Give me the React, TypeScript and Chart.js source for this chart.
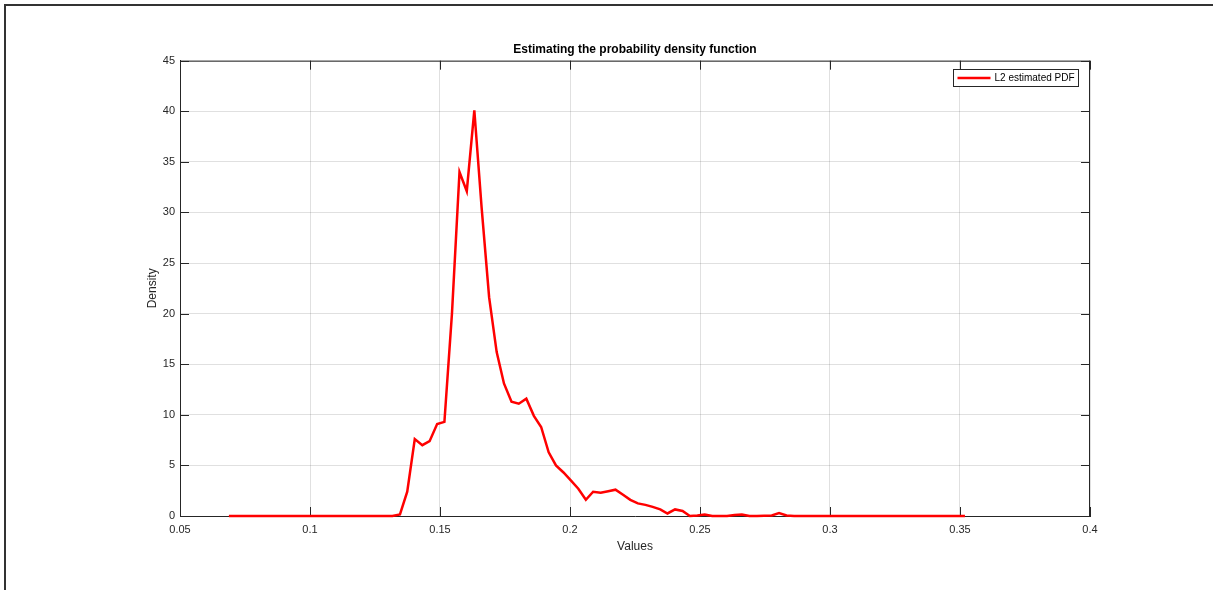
import React, { useEffect, useRef } from "react";
import { Chart, registerables } from "chart.js";

Chart.register(...registerables);

// Sample positions of the estimated density curve
const xValues = [
  0.0688, 0.0717, 0.0745, 0.0774, 0.0802, 0.0831, 0.0860, 0.0888, 0.0917, 0.0945,
  0.0974, 0.1003, 0.1031, 0.1060, 0.1088, 0.1117, 0.1146, 0.1174, 0.1203, 0.1231,
  0.1260, 0.1289, 0.1317, 0.1346, 0.1374, 0.1403, 0.1432, 0.1460, 0.1489, 0.1517,
  0.1546, 0.1575, 0.1603, 0.1632, 0.1660, 0.1689, 0.1718, 0.1746, 0.1775, 0.1803,
  0.1832, 0.1861, 0.1889, 0.1918, 0.1946, 0.1975, 0.2004, 0.2032, 0.2061, 0.2089,
  0.2118, 0.2147, 0.2175, 0.2204, 0.2232, 0.2261, 0.2290, 0.2318, 0.2347, 0.2375,
  0.2404, 0.2433, 0.2461, 0.2490, 0.2518, 0.2547, 0.2576, 0.2604, 0.2633, 0.2661,
  0.2690, 0.2719, 0.2747, 0.2776, 0.2804, 0.2833, 0.2862, 0.2890, 0.2919, 0.2947,
  0.2976, 0.3005, 0.3033, 0.3062, 0.3090, 0.3119, 0.3148, 0.3176, 0.3205, 0.3233,
  0.3262, 0.3291, 0.3319, 0.3348, 0.3376, 0.3405, 0.3434, 0.3462, 0.3491, 0.3519,
];

// L2 estimated PDF values at each sample position
const densityValues = [
  0, 0, 0, 0, 0, 0, 0, 0, 0, 0,
  0, 0, 0, 0, 0, 0, 0, 0, 0, 0,
  0, 0, 0, 0.15, 2.4, 7.6, 7.0, 7.4, 9.1, 9.3,
  20.0, 34.0, 32.1, 40.1, 30.5, 21.6, 16.2, 13.1, 11.3, 11.1,
  11.6, 9.9, 8.8, 6.3, 5.0, 4.3, 3.5, 2.7, 1.6, 2.4,
  2.3, 2.45, 2.6, 2.1, 1.6, 1.25, 1.1, 0.9, 0.65, 0.25,
  0.65, 0.5, 0, 0.05, 0.15, 0, 0, 0, 0.1, 0.15,
  0, 0, 0.02, 0.05, 0.28, 0.05, 0, 0, 0, 0,
  0, 0, 0, 0, 0, 0, 0, 0, 0, 0,
  0, 0, 0, 0, 0, 0, 0, 0, 0, 0,
];

const xTicks = [0.05, 0.1, 0.15, 0.2, 0.25, 0.3, 0.35, 0.4];
const yTicks = [0, 5, 10, 15, 20, 25, 30, 35, 40, 45];

const chartTitle = "Estimating the probability density function";
const xLabel = "Values";
const yLabel = "Density";
const seriesLabel = "L2 estimated PDF";

const AXIS_COLOR = "#262626";
const FONT = "'Liberation Sans', Arial, Helvetica, sans-serif";

// Box outline, inward tick marks, titles and legend in a MATLAB-like style
const axesDecor = {
  id: "axesDecor",
  beforeDatasetsDraw(chart: any) {
    const { ctx, chartArea: a, scales } = chart;
    const xs = scales.x;
    const ys = scales.y;
    ctx.save();
    ctx.strokeStyle = AXIS_COLOR;
    ctx.lineWidth = 1;
    ctx.beginPath();
    ctx.moveTo(a.left, a.top + 0.5);
    ctx.lineTo(a.right, a.top + 0.5);
    ctx.moveTo(a.right - 0.5, a.top);
    ctx.lineTo(a.right - 0.5, a.bottom);
    const tl = 9;
    xTicks.forEach((v) => {
      const px = Math.round(xs.getPixelForValue(v)) + 0.5;
      ctx.moveTo(px, a.bottom);
      ctx.lineTo(px, a.bottom - tl);
      ctx.moveTo(px, a.top);
      ctx.lineTo(px, a.top + tl);
    });
    yTicks.forEach((v) => {
      const py = Math.round(ys.getPixelForValue(v)) + 0.5;
      ctx.moveTo(a.left, py);
      ctx.lineTo(a.left + tl, py);
      ctx.moveTo(a.right, py);
      ctx.lineTo(a.right - tl, py);
    });
    ctx.stroke();
    ctx.restore();
  },
  afterDraw(chart: any) {
    const { ctx, chartArea: a } = chart;
    const cx = (a.left + a.right) / 2;
    ctx.save();
    ctx.fillStyle = "#000000";
    ctx.textAlign = "center";
    ctx.textBaseline = "middle";
    ctx.font = `bold 12px ${FONT}`;
    ctx.fillText(chartTitle, cx, a.top - 11.5);

    ctx.fillStyle = AXIS_COLOR;
    ctx.font = `12px ${FONT}`;
    ctx.fillText(xLabel, cx, a.bottom + 31);

    ctx.save();
    ctx.translate(a.left - 27, (a.top + a.bottom) / 2);
    ctx.rotate(-Math.PI / 2);
    ctx.fillText(yLabel, 0, 0);
    ctx.restore();

    // legend
    const lx = 953.5;
    const ly = 69.5;
    const lw = 125;
    const lh = 17;
    ctx.fillStyle = "#ffffff";
    ctx.fillRect(lx, ly, lw, lh);
    ctx.strokeStyle = AXIS_COLOR;
    ctx.lineWidth = 1;
    ctx.strokeRect(lx, ly, lw, lh);
    ctx.strokeStyle = "#ff0000";
    ctx.lineWidth = 2.5;
    ctx.beginPath();
    ctx.moveTo(lx + 4, ly + lh / 2);
    ctx.lineTo(lx + 37, ly + lh / 2);
    ctx.stroke();
    ctx.fillStyle = "#000000";
    ctx.font = `10px ${FONT}`;
    ctx.textAlign = "left";
    ctx.fillText(seriesLabel, lx + 41, ly + lh / 2 + 0.5);
    ctx.restore();
  },
};

export default function App() {
  const canvasRef = useRef<HTMLCanvasElement | null>(null);

  useEffect(() => {
    if (!canvasRef.current) return;
    const chart = new Chart(canvasRef.current, {
      type: "line",
      data: {
        datasets: [
          {
            label: seriesLabel,
            data: xValues.map((x, i) => ({ x, y: densityValues[i] })),
            borderColor: "#ff0000",
            borderWidth: 2.5,
            pointRadius: 0,
            tension: 0,
            fill: false,
            clip: false as any,
          },
        ],
      },
      options: {
        animation: false,
        responsive: false,
        maintainAspectRatio: false,
        layout: { padding: { top: 60.7, right: 123, left: 0, bottom: 0 } },
        plugins: {
          legend: { display: false },
          title: { display: false },
          tooltip: { enabled: false },
        },
        scales: {
          x: {
            type: "linear",
            min: 0.05,
            max: 0.4,
            afterBuildTicks: (scale: any) => {
              scale.ticks = xTicks.map((v) => ({ value: v }));
            },
            afterFit: (scale: any) => {
              scale.height = 74;
            },
            ticks: {
              color: AXIS_COLOR,
              font: { family: FONT, size: 11 },
              padding: 7,
              maxRotation: 0,
              autoSkip: false,
              callback: (v: any) => String(Number(Number(v).toFixed(2))),
            },
            grid: { color: "rgba(38,38,38,0.14)", drawTicks: false, lineWidth: 1 },
            border: { display: true, color: AXIS_COLOR, width: 1 },
          },
          y: {
            type: "linear",
            min: 0,
            max: 45,
            afterBuildTicks: (scale: any) => {
              scale.ticks = yTicks.map((v) => ({ value: v }));
            },
            afterFit: (scale: any) => {
              scale.width = 180;
            },
            ticks: {
              color: AXIS_COLOR,
              font: { family: FONT, size: 11 },
              padding: 5,
              autoSkip: false,
            },
            grid: { color: "rgba(38,38,38,0.14)", drawTicks: false, lineWidth: 1 },
            border: { display: true, color: AXIS_COLOR, width: 1 },
          },
        },
      },
      plugins: [axesDecor],
    });
    return () => chart.destroy();
  }, []);

  return (
    <div
      style={{
        position: "fixed",
        left: 0,
        top: 0,
        width: 1213,
        height: 590,
        background: "#ffffff",
        overflow: "hidden",
      }}
    >
      <div
        style={{
          position: "absolute",
          left: 4,
          top: 4,
          width: 1400,
          height: 800,
          borderLeft: "2px solid #333333",
          borderTop: "2px solid #333333",
        }}
      />
      <canvas
        ref={canvasRef}
        width={1213}
        height={590}
        style={{ position: "absolute", left: 0, top: 0, width: 1213, height: 590 }}
      />
    </div>
  );
}
